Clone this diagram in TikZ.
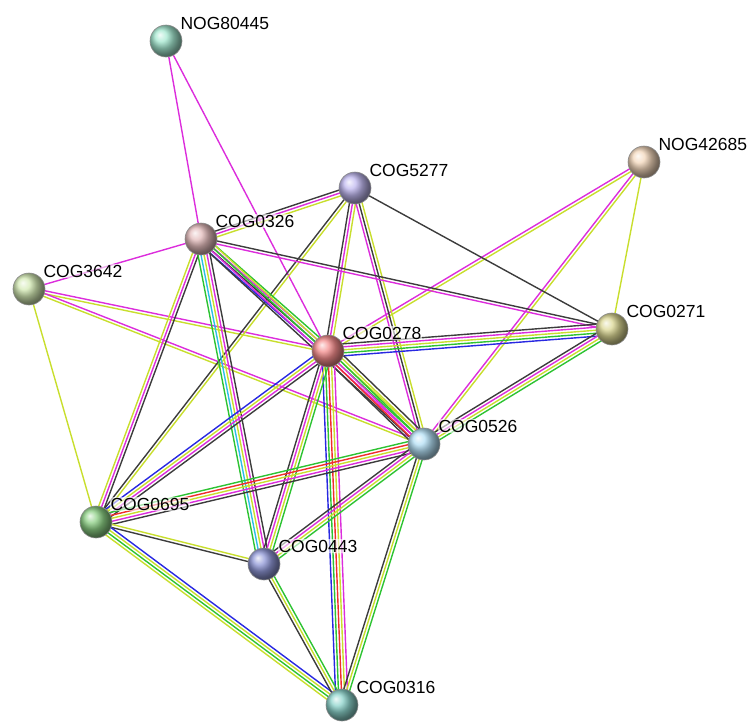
\documentclass[tikz,border=0pt]{standalone}
\usepackage{fontspec}
\setmainfont{Liberation Sans}
\usetikzlibrary{calc, backgrounds}

\definecolor{evgreen}{RGB}{45,195,50}
\definecolor{evred}{RGB}{240,45,45}
\definecolor{evblue}{RGB}{40,40,225}
\definecolor{evblack}{RGB}{60,60,60}
\definecolor{evmag}{RGB}{220,45,220}
\definecolor{evyel}{RGB}{200,222,45}
\definecolor{evcyan}{RGB}{45,190,230}

\definecolor{cnog80445}{RGB}{140,225,195}
\definecolor{cnog42685}{RGB}{240,205,170}
\definecolor{ccog5277}{RGB}{175,165,235}
\definecolor{ccog0326}{RGB}{220,170,170}
\definecolor{ccog3642}{RGB}{200,228,160}
\definecolor{ccog0271}{RGB}{210,205,120}
\definecolor{ccog0278}{RGB}{240,110,110}
\definecolor{ccog0526}{RGB}{160,215,242}
\definecolor{ccog0695}{RGB}{110,195,100}
\definecolor{ccog0443}{RGB}{115,125,205}
\definecolor{ccog0316}{RGB}{110,200,190}

\newcommand{\evgap}{3.0}
\newcommand{\evlink}[3]{%
  \foreach \col [count=\i] in {#3} {\xdef\evcount{\i}}%
  \foreach \col [count=\i] in {#3} {%
    \pgfmathsetmacro{\evoff}{(\i-(\evcount+1)/2)*\evgap}%
    \draw[evline, \col] ($(#1)!\evoff pt!90:(#2)$) -- ($(#2)!\evoff pt!-90:(#1)$);
  }%
}

\begin{document}
\begin{tikzpicture}[x=1pt, y=-1pt]
\tikzstyle{gene}=[circle, minimum size=32pt, inner sep=0pt, draw=black!45, line width=0.6pt, label distance=4pt]
\tikzstyle{tag}=[anchor=base west, xshift=2pt, inner sep=0.8pt, fill=white, fill opacity=0.6, text opacity=1, font=\fontsize{17.5}{19}\selectfont]
\tikzstyle{evline}=[line width=1.4pt]
\useasboundingbox (0,0) rectangle (756,723);
\node[gene, ball color=cnog80445!80!white] (nog80445) at (166,41) [label={[tag]45:NOG80445}] {};
\node[gene, ball color=cnog42685!80!white] (nog42685) at (644,162) [label={[tag]45:NOG42685}] {};
\node[gene, ball color=ccog5277!80!white] (cog5277) at (355,188) [label={[tag]45:COG5277}] {};
\node[gene, ball color=ccog0326!80!white] (cog0326) at (201,239) [label={[tag]45:COG0326}] {};
\node[gene, ball color=ccog3642!80!white] (cog3642) at (29,289) [label={[tag]45:COG3642}] {};
\node[gene, ball color=ccog0271!80!white] (cog0271) at (612,329) [label={[tag]45:COG0271}] {};
\node[gene, ball color=ccog0278!80!white] (cog0278) at (328,351) [label={[tag]45:COG0278}] {};
\node[gene, ball color=ccog0526!80!white] (cog0526) at (424,444) [label={[tag]45:COG0526}] {};
\node[gene, ball color=ccog0695!80!white] (cog0695) at (96,522) [label={[tag]45:COG0695}] {};
\node[gene, ball color=ccog0443!80!white] (cog0443) at (264,564) [label={[tag]45:COG0443}] {};
\node[gene, ball color=ccog0316!80!white] (cog0316) at (342,705) [label={[tag]45:COG0316}] {};
\begin{pgfonlayer}{background}
\evlink{nog80445}{cog0326}{evmag}
\evlink{nog80445}{cog0278}{evmag}
\evlink{nog42685}{cog0278}{evmag,evyel}
\evlink{nog42685}{cog0526}{evmag,evyel}
\evlink{nog42685}{cog0271}{evyel}
\evlink{cog3642}{cog0326}{evmag}
\evlink{cog3642}{cog0695}{evyel}
\evlink{cog3642}{cog0278}{evyel,evmag}
\evlink{cog3642}{cog0526}{evyel,evmag}
\evlink{cog5277}{cog0326}{evblack,evmag,evyel}
\evlink{cog5277}{cog0271}{evblack}
\evlink{cog5277}{cog0278}{evblack,evmag,evyel}
\evlink{cog5277}{cog0526}{evmag,evblack,evyel}
\evlink{cog5277}{cog0695}{evblack,evyel}
\evlink{cog0326}{cog0278}{evblue,evblack,evmag,evgreen}
\evlink{cog0326}{cog0526}{evblack,evmag,evgreen,evyel}
\evlink{cog0326}{cog0271}{evmag,evblack}
\evlink{cog0326}{cog0695}{evyel,evmag,evblack}
\evlink{cog0326}{cog0443}{evgreen,evcyan,evyel,evmag,evblack}
\evlink{cog0278}{cog0271}{evblue,evgreen,evyel,evmag,evblack}
\evlink{cog0278}{cog0526}{evblack,evred,evmag,evgreen,evyel,evblack}
\evlink{cog0278}{cog0316}{evblue,evgreen,evred,evyel,evmag}
\evlink{cog0278}{cog0443}{evblack,evmag,evyel,evgreen}
\evlink{cog0278}{cog0695}{evblue,evyel,evmag,evblack}
\evlink{cog0526}{cog0271}{evgreen,evyel,evmag,evblack}
\evlink{cog0526}{cog0695}{evgreen,evred,evyel,evmag,evblack}
\evlink{cog0526}{cog0443}{evblack,evmag,evyel,evgreen}
\evlink{cog0526}{cog0316}{evblack,evyel,evgreen}
\evlink{cog0695}{cog0443}{evblack,evyel}
\evlink{cog0695}{cog0316}{evyel,evgreen,evyel,evblue}
\evlink{cog0443}{cog0316}{evblack,evyel,evgreen}
\end{pgfonlayer}
\end{tikzpicture}
\end{document}
